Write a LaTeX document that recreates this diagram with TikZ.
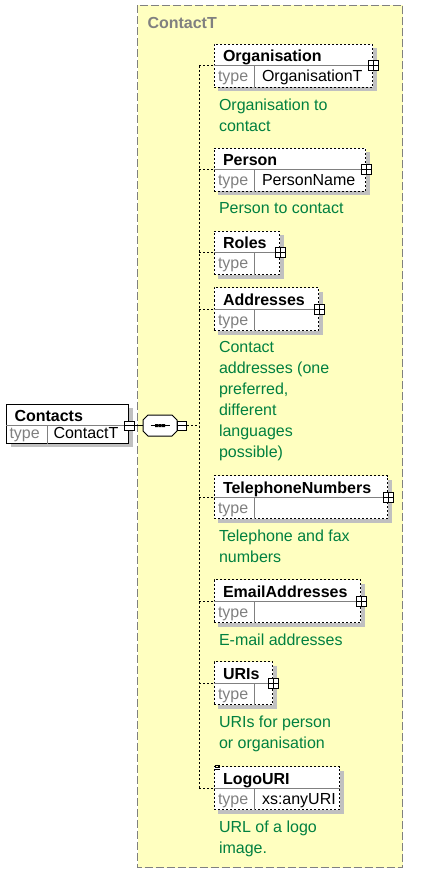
\documentclass[tikz,border=0pt]{standalone}
\usepackage{fontspec}
\setmainfont{Liberation Sans}
\usetikzlibrary{positioning,calc,shadows}
\definecolor{ctyellow}{RGB}{255,255,192}
\definecolor{docgreen}{RGB}{0,128,64}
\definecolor{framegray}{RGB}{128,128,128}
\definecolor{shadegray}{RGB}{192,192,192}
\tikzset{every picture/.style={line width=1pt}}
\tikzset{
  ctbox/.style={fill=ctyellow, draw=framegray, dash pattern=on 8pt off 3pt},
  ctlabel/.style={font=\fontsize{16}{21}\selectfont\bfseries, text=framegray, inner sep=0pt, anchor=base west},
  elem/.style={draw, fill=white, dash pattern=on 2pt off 2pt, inner sep=0pt, minimum height=43pt, anchor=north west,
    drop shadow={shadow xshift=4pt, shadow yshift=-4pt, fill=shadegray, opacity=1}},
  topelem/.style={elem, solid, minimum height=39pt},
  elname/.style={font=\fontsize{16}{21}\selectfont\bfseries, inner sep=0pt, anchor=base west},
  eltype/.style={font=\fontsize{16}{21}\selectfont, text=framegray, inner sep=0pt, anchor=base west},
  elvalue/.style={font=\fontsize{16}{21}\selectfont, inner sep=0pt, anchor=base west},
  sepline/.style={draw=framegray},
  desc/.style={font=\fontsize{16}{21}\selectfont, text=docgreen, align=left, inner sep=0pt},
  plusbox/.style={draw, fill=white, minimum size=10pt, inner sep=0pt,
    path picture={\draw (path picture bounding box.north) -- (path picture bounding box.south)
      (path picture bounding box.west) -- (path picture bounding box.east);}},
  minusbox/.style={draw, fill=white, minimum width=10pt, minimum height=9pt, inner sep=0pt,
    path picture={\draw (path picture bounding box.west) -- (path picture bounding box.east);}},
  seqbox/.style={inner sep=0pt, minimum width=34pt, minimum height=21pt},
  conn/.style={dash pattern=on 2pt off 2pt}
}

\begin{document}
\begin{tikzpicture}[x=1pt, y=-1pt]
    \useasboundingbox (0,0) rectangle (421,874);

    % 复杂类型 ContactT
    \draw[ctbox] (137.5,5.5) rectangle (402.5,867.5);
    \node[ctlabel] (ctitle) at (147,28.5) {ContactT};

    % 元素 Contacts
    \node[topelem, minimum width=122pt] (contacts) at (6,403.5) {};
    \draw[sepline] ($(contacts.north west)+(0,22)$) -- ($(contacts.north east)+(0,22)$)
        ($(contacts.south west)+(41,0)$) -- ($(contacts.north west)+(41,22)$);
    \node[elname] at ($(contacts.north west)+(8,17.5)$) {Contacts};
    \node[eltype] at ($(contacts.north west)+(3,34.5)$) {type};
    \node[elvalue] at ($(contacts.north west)+(47,34.5)$) {ContactT};
    \node[minusbox] (contactsx) at ($(contacts.north east)+(0,22)$) {};

    % 序列
    \node[seqbox] (seq) at (160,425.5) {};
    \fill[shadegray, shift={(3,3)}] (seq.center) +(-17,-5.5) -- +(-12,-10.5) -- +(12,-10.5) -- +(17,-5.5)
        -- +(17,5.5) -- +(12,10.5) -- +(-12,10.5) -- +(-17,5.5) -- cycle;
    \draw[fill=white] (seq.center) +(-17,-5.5) -- +(-12,-10.5) -- +(12,-10.5) -- +(17,-5.5)
        -- +(17,5.5) -- +(12,10.5) -- +(-12,10.5) -- +(-17,5.5) -- cycle;
    \draw (contactsx.east) -- (seq.west);
    \draw ([xshift=8pt]seq.west) -- ([xshift=-8pt]seq.east);
    \fill (155,424) rectangle +(3,3) (158.5,424) rectangle +(3,3) (162,424) rectangle +(3,3);
    \node[minusbox, minimum width=9pt] (seqx) at (182,425.5) {};

    % Organisation
    \node[elem, minimum width=158.5pt] (org) at (213.5,44) {};
    \draw[sepline] (org.west) -- (org.east) ($(org.south west)+(41,0)$) -- ($(org.west)+(41,0)$);
    \node[elname] at ($(org.north west)+(9,18)$) {Organisation};
    \node[eltype] at ($(org.north west)+(4,38)$) {type};
    \node[elvalue] at ($(org.north west)+(48,38)$) {OrganisationT};
    \node[plusbox] (orgx) at (org.east) {};
    \node[desc, below right=10pt and 5pt of org.south west] (orgdoc) {Organisation to\\contact};

    % Person
    \node[elem, minimum width=151.5pt] (person) at (213.5,148) {};
    \draw[sepline] (person.west) -- (person.east) ($(person.south west)+(41,0)$) -- ($(person.west)+(41,0)$);
    \node[elname] at ($(person.north west)+(9,18)$) {Person};
    \node[eltype] at ($(person.north west)+(4,38)$) {type};
    \node[elvalue] at ($(person.north west)+(48,38)$) {PersonName};
    \node[plusbox] (personx) at (person.east) {};
    \node[desc, below right=10pt and 5pt of person.south west] (persondoc) {Person to contact};

    % Roles
    \node[elem, minimum width=65.5pt] (roles) at (213.5,231) {};
    \draw[sepline] (roles.west) -- (roles.east) ($(roles.south west)+(41,0)$) -- ($(roles.west)+(41,0)$);
    \node[elname] at ($(roles.north west)+(9,18)$) {Roles};
    \node[eltype] at ($(roles.north west)+(4,38)$) {type};
    \node[plusbox] (rolesx) at (roles.east) {};

    % Addresses
    \node[elem, minimum width=104.5pt] (addr) at (213.5,287) {};
    \draw[sepline] (addr.west) -- (addr.east) ($(addr.south west)+(41,0)$) -- ($(addr.west)+(41,0)$);
    \node[elname] at ($(addr.north west)+(9,18)$) {Addresses};
    \node[eltype] at ($(addr.north west)+(4,38)$) {type};
    \node[plusbox] (addrx) at (addr.east) {};
    \node[desc, below right=10pt and 5pt of addr.south west] (addrdoc)
        {Contact\\addresses (one\\preferred,\\different\\languages\\possible)};

    % TelephoneNumbers
    \node[elem, minimum width=173.5pt] (tel) at (213.5,475) {};
    \draw[sepline] (tel.west) -- (tel.east) ($(tel.south west)+(41,0)$) -- ($(tel.west)+(41,0)$);
    \node[elname] at ($(tel.north west)+(9,18)$) {TelephoneNumbers};
    \node[eltype] at ($(tel.north west)+(4,38)$) {type};
    \node[plusbox] (telx) at (tel.east) {};
    \node[desc, below right=10pt and 5pt of tel.south west] (teldoc) {Telephone and fax\\numbers};

    % EmailAddresses
    \node[elem, minimum width=146.5pt] (email) at (213.5,579) {};
    \draw[sepline] (email.west) -- (email.east) ($(email.south west)+(41,0)$) -- ($(email.west)+(41,0)$);
    \node[elname] at ($(email.north west)+(9,18)$) {EmailAddresses};
    \node[eltype] at ($(email.north west)+(4,38)$) {type};
    \node[plusbox] (emailx) at (email.east) {};
    \node[desc, below right=10pt and 5pt of email.south west] (emaildoc) {E-mail addresses};

    % URIs
    \node[elem, minimum width=58.5pt] (uris) at (213.5,661) {};
    \draw[sepline] (uris.west) -- (uris.east) ($(uris.south west)+(41,0)$) -- ($(uris.west)+(41,0)$);
    \node[elname] at ($(uris.north west)+(9,18)$) {URIs};
    \node[eltype] at ($(uris.north west)+(4,38)$) {type};
    \node[plusbox] (urisx) at (uris.east) {};
    \node[desc, below right=10pt and 5pt of uris.south west] (urisdoc) {URIs for person\\or organisation};

    % LogoURI
    \node[elem, minimum width=125.5pt] (logo) at (213.5,766) {};
    \draw[sepline] (logo.west) -- (logo.east) ($(logo.south west)+(41,0)$) -- ($(logo.west)+(41,0)$);
    \draw[line width=0.7pt] (214.5,765.5) -- +(5,0) (214.5,767.5) -- +(5,0) (214.5,769.5) -- +(5,0);
    \node[elname] at ($(logo.north west)+(9,18)$) {LogoURI};
    \node[eltype] at ($(logo.north west)+(4,38)$) {type};
    \node[elvalue] at ($(logo.north west)+(48,38)$) {xs:anyURI};
    \node[desc, below right=10pt and 5pt of logo.south west] (logodoc) {URL of a logo\\image.};

    % 连接线
    \coordinate (bus) at (199,0);
    \draw[conn] (seqx.east) -- (seqx.east -| bus);
    \draw[conn] (org.west -| bus) -- (logo.west -| bus);
    \draw[conn] (org.west -| bus) -- (org.west);
    \draw[conn] (person.west -| bus) -- (person.west);
    \draw[conn] (roles.west -| bus) -- (roles.west);
    \draw[conn] (addr.west -| bus) -- (addr.west);
    \draw[conn] (tel.west -| bus) -- (tel.west);
    \draw[conn] (email.west -| bus) -- (email.west);
    \draw[conn] (uris.west -| bus) -- (uris.west);
    \draw[conn] (logo.west -| bus) -- (logo.west);
\end{tikzpicture}
\end{document}
